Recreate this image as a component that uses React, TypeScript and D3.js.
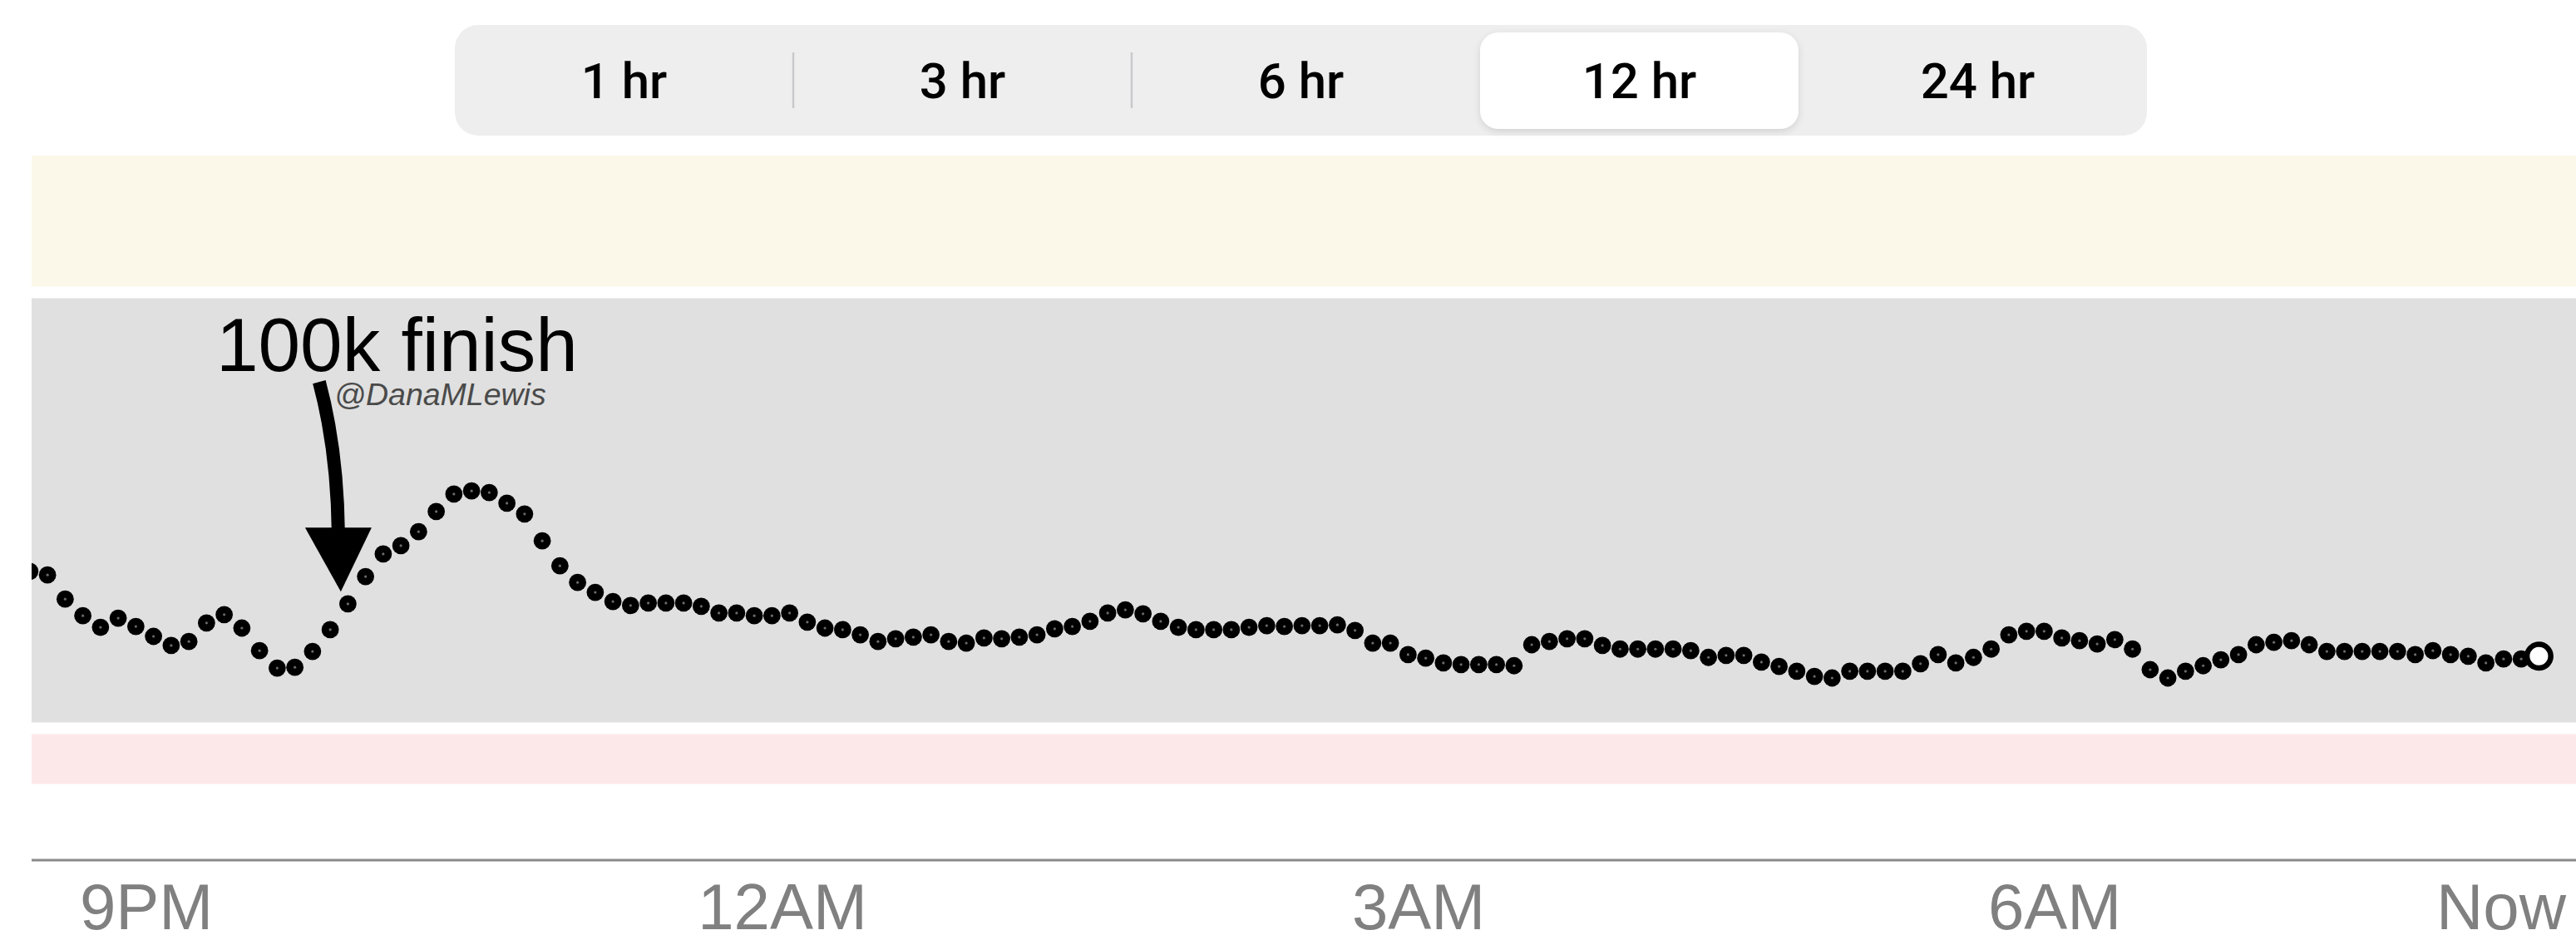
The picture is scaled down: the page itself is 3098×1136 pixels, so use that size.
import React from "react";
import * as d3 from "d3";

const WIDTH = 3098;
const HEIGHT = 1136;

// ---- data ----
const rangeOptions = ["1 hr", "3 hr", "6 hr", "12 hr", "24 hr"];
const selectedRange = "12 hr";

const windowStart = new Date(2019, 6, 14, 20, 27, 30);
const windowEnd = new Date(2019, 6, 15, 8, 27, 30);
const firstReading = new Date(2019, 6, 14, 20, 27, 0);
const readingIntervalMin = 5;

// CGM readings (mg/dL), one every 5 minutes
const glucose = [
  109.6, 108.7, 102.6, 98.4, 95.5, 97.8, 95.7, 93.2, 90.9, 91.9,
  96.6, 98.7, 95.3, 89.6, 85.2, 85.4, 89.4, 94.9, 101.4, 108.3,
  114.0, 116.1, 119.6, 124.7, 129.1, 129.9, 129.5, 126.8, 124.1, 117.3,
  111.0, 106.8, 104.3, 102.0, 101.0, 101.6, 101.6, 101.6, 100.8, 99.1,
  99.1, 98.4, 98.4, 99.1, 96.8, 95.3, 94.9, 93.6, 91.9, 92.6,
  93.0, 93.6, 91.9, 91.5, 92.8, 92.6, 93.0, 93.6, 95.1, 95.7,
  97.0, 99.1, 99.9, 98.9, 97.0, 95.5, 94.9, 94.9, 94.9, 95.5,
  95.9, 95.7, 95.9, 95.9, 96.1, 94.7, 91.5, 91.5, 88.6, 87.7,
  86.5, 86.1, 86.1, 86.1, 85.8, 91.1, 91.9, 92.6, 92.6, 90.9,
  90.0, 90.0, 90.0, 90.0, 89.6, 87.9, 88.4, 88.4, 86.7, 85.6,
  84.4, 83.1, 82.7, 84.4, 84.4, 84.4, 84.4, 86.3, 88.6, 86.5,
  87.9, 90.0, 93.6, 94.5, 94.5, 92.8, 92.1, 91.3, 92.4, 90.0,
  84.8, 82.7, 84.4, 85.8, 87.3, 88.6, 91.1, 91.7, 92.1, 91.1,
  89.4, 89.4, 89.4, 89.4, 89.4, 88.6, 89.6, 88.6, 88.2, 86.5,
  87.5, 87.5, 88.2,
];

const tickTimes = [
  new Date(2019, 6, 14, 21, 0),
  new Date(2019, 6, 15, 0, 0),
  new Date(2019, 6, 15, 3, 0),
  new Date(2019, 6, 15, 6, 0),
];
const nowLabel = "Now";

const bandTop = [216, 180, 70];
const bandBottom = [180, 70, 54.5];

const annotationTime = new Date(2019, 6, 14, 21, 55);
const annotationValue = 104.5;
const annotationLabel = "100k finish";
const creditLabel = "@DanaMLewis";

// ---- styles ----
const bandColors = ["#fcf8e9", "#e0e0e0", "#fde8e9"];
const BAND_INSET = 7;
const AXIS_Y = 1034;
const PLOT_LEFT = 38;
const PLOT_RIGHT = WIDTH;

export default function App() {
  const x = d3.scaleTime().domain([windowStart, windowEnd]).range([PLOT_LEFT, PLOT_RIGHT]);
  const y = d3.scaleLinear().domain([70, 180]).range([875.5, 351.5]);
  const fmt = d3.timeFormat("%-I%p");

  const seg = d3.scaleBand<string>().domain(rangeOptions).range([547, 2582]);
  const segTop = 30;
  const segH = 133;
  const selIdx = rangeOptions.indexOf(selectedRange);

  const pts = glucose.map((v, i) => ({
    t: d3.timeMinute.offset(firstReading, i * readingIntervalMin),
    v,
  }));
  const last = pts[pts.length - 1];

  const tx = x(annotationTime);
  const ty = y(annotationValue);

  return (
    <svg
      width={WIDTH}
      height={HEIGHT}
      style={{ position: "absolute", left: 0, top: 0, display: "block", background: "#fff" }}
      fontFamily="'Liberation Sans', Arial, Helvetica, sans-serif"
    >
      <defs>
        <clipPath id="plotclip">
          <rect x={PLOT_LEFT} y={0} width={PLOT_RIGHT - PLOT_LEFT} height={AXIS_Y} />
        </clipPath>
        <filter id="pillshadow" x="-10%" y="-20%" width="120%" height="150%">
          <feDropShadow dx="0" dy="3" stdDeviation="4" floodColor="#000" floodOpacity="0.12" />
        </filter>
      </defs>

      {/* segmented control */}
      <rect x={seg.range()[0]} y={segTop} width={seg.range()[1] - seg.range()[0]} height={segH} rx={28} fill="#eeeeef" />
      {rangeOptions.map((o, i) => {
        const sx = seg(o)!;
        const bw = seg.bandwidth();
        return (
          <g key={o}>
            {i === selIdx && (
              <rect x={sx + 12} y={segTop + 9} width={bw - 24} height={segH - 17} rx={22} fill="#fff" filter="url(#pillshadow)" />
            )}
            {i > 0 && i !== selIdx && i - 1 !== selIdx && i <= 2 && (
              <line x1={sx} x2={sx} y1={63} y2={130} stroke="#c9c9cb" strokeWidth={2.5} />
            )}
            <text
              x={sx + bw / 2}
              y={118}
              textAnchor="middle"
              fontFamily="Roboto, 'Liberation Sans', sans-serif"
              fontWeight={500}
              fontSize={60}
              fill="#000"
            >
              {o}
            </text>
          </g>
        );
      })}

      {/* range bands */}
      {bandTop.map((hi, i) => (
        <rect
          key={i}
          x={PLOT_LEFT}
          y={y(hi) + BAND_INSET}
          width={PLOT_RIGHT - PLOT_LEFT}
          height={y(bandBottom[i]) - y(hi) - 2 * BAND_INSET}
          fill={bandColors[i]}
        />
      ))}

      {/* axis */}
      <line x1={PLOT_LEFT} x2={PLOT_RIGHT} y1={AXIS_Y} y2={AXIS_Y} stroke="#8a8a8a" strokeWidth={3} />
      {tickTimes.map((t) => (
        <text key={+t} x={x(t)} y={1117} textAnchor="middle" fontSize={78} fill="#808080">
          {fmt(t)}
        </text>
      ))}
      <text x={3086} y={1117} textAnchor="end" fontSize={78} fill="#808080">
        {nowLabel}
      </text>

      {/* readings */}
      <g clipPath="url(#plotclip)">
        {pts.slice(0, -1).map((p, i) => (
          <g key={i}>
            <circle cx={x(p.t)} cy={y(p.v)} r={10.4} fill="#000" />
            <circle cx={x(p.t)} cy={y(p.v)} r={1.6} fill="#6a6a6a" />
          </g>
        ))}
        <circle cx={x(last.t)} cy={y(last.v)} r={14.3} fill="#fff" stroke="#000" strokeWidth={6.5} />
      </g>

      {/* annotation */}
      <text x={tx - 150} y={ty - 265} fontSize={91} fill="#000">
        {annotationLabel}
      </text>
      <text x={tx - 8} y={ty - 224} fontSize={37.5} fontStyle="italic" fill="#4a4a4a">
        {creditLabel}
      </text>
      <path
        d={`M${tx - 26},${ty - 252} Q${tx - 4},${ty - 170} ${tx - 3},${ty - 70}`}
        fill="none"
        stroke="#000"
        strokeWidth={16}
      />
      <polygon points={`${tx - 43},${ty - 77} ${tx + 37},${ty - 77} ${tx},${ty}`} fill="#000" />
    </svg>
  );
}
